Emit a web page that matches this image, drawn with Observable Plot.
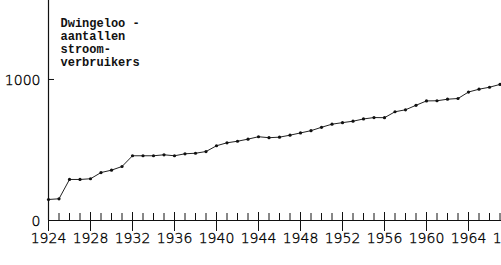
<!DOCTYPE html>
<html>
<head>
<meta charset="utf-8">
<script src="https://cdn.jsdelivr.net/npm/d3@7"></script>
<script src="https://cdn.jsdelivr.net/npm/@observablehq/plot@0.6"></script>
<style>
html, body { margin: 0; padding: 0; overflow: hidden; background: #fff; width: 501px; height: 265px; }
#chart { width: 501px; height: 265px; overflow: hidden; }
#chart svg { display: block; max-width: none !important; width: 520px; height: 265px; }
</style>
</head>
<body>
<div id="chart"></div>
<script>
const years = [1924,1925,1926,1927,1928,1929,1930,1931,1932,1933,1934,1935,1936,1937,1938,1939,1940,1941,1942,1943,1944,1945,1946,1947,1948,1949,1950,1951,1952,1953,1954,1955,1956,1957,1958,1959,1960,1961,1962,1963,1964,1965,1966,1967];
const verbruikers = [149,154,291,291,296,340,357,383,459,459,459,466,459,473,477,489,530,551,562,577,594,587,591,605,621,637,661,683,694,704,720,730,729,771,785,817,848,849,860,865,911,931,945,965];
const majorTicks = [1924,1928,1932,1936,1940,1944,1948,1952,1956,1960,1964,1968];
const minorTicks = d3.range(1924, 1969);
const yTicks = [0, 1000];
const titleLines = ["Dwingeloo -", "aantallen", "stroom-", "verbruikers"];

const data = years.map((y, i) => ({year: y, value: verbruikers[i]}));
const font = "'DejaVu Sans', sans-serif";

const chart = Plot.plot({
  width: 520,
  height: 265,
  marginLeft: 48,
  marginRight: 10,
  marginTop: 0,
  marginBottom: 45,
  style: {background: "#fff", color: "#000", maxWidth: "none"},
  x: {domain: [1924, 1968], axis: null},
  y: {domain: [0, 1560], axis: null},
  marks: [
    Plot.ruleX([1924], {stroke: "#111", strokeWidth: 1.2}),
    Plot.ruleY([0], {stroke: "#111", strokeWidth: 1.2}),
    Plot.axisX({ticks: minorTicks, tickSize: -7, text: null, label: null, stroke: "#111"}),
    Plot.axisX({ticks: majorTicks, tickSize: -8, text: null, label: null, stroke: "#111"}),
    Plot.axisX({ticks: majorTicks, tickSize: 11, tickPadding: 2, tickFormat: d => String(d), label: null,
      fontSize: 14, fontFamily: font, fontWeight: 300, fill: "#000", stroke: "#111",
      textStroke: "#000", textStrokeWidth: 0.35, textStrokeOpacity: 1}),
    Plot.axisY({ticks: yTicks, tickSize: 0, tickPadding: 8, tickFormat: d => String(d), label: null,
      fontSize: 14, fontFamily: font, fontWeight: 300, fill: "#000", dy: 1,
      textStroke: "#000", textStrokeWidth: 0.35, textStrokeOpacity: 1}),
    Plot.axisY({ticks: [1000], anchor: "left", tickSize: 6, dx: 6, text: null, label: null, stroke: "#111"}),
    Plot.line(data, {x: "year", y: "value", stroke: "#222", strokeWidth: 1}),
    Plot.dot(data, {x: "year", y: "value", r: 1.6, fill: "#111", stroke: "none"}),
    Plot.text([titleLines.join("\n")], {
      frameAnchor: "top-left", dx: 12, dy: 17, lineAnchor: "top", textAnchor: "start",
      lineHeight: 1.08, fontSize: 12, fontWeight: "bold",
      fontFamily: "'Liberation Mono', 'DejaVu Sans Mono', monospace", fill: "#111"
    })
  ]
});
document.getElementById("chart").appendChild(chart);
</script>
</body>
</html>
